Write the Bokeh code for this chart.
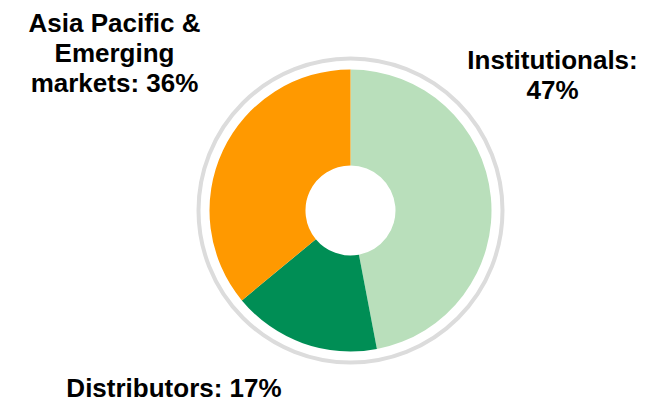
import numpy as np
from bokeh.plotting import figure
from bokeh.models import Range1d, ColumnDataSource
from bokeh.core.properties import value
from bokeh.embed import file_html
from bokeh.resources import INLINE

categories = ["Institutionals", "Distributors", "Asia Pacific &\nEmerging\nmarkets"]
shares = [47, 17, 36]
colors = ["#b9dfbb", "#008e55", "#ff9900"]

W, H = 657, 400
p = figure(width=W, height=H, output_backend="svg", toolbar_location=None,
           x_range=Range1d(0, W), y_range=Range1d(0, H), min_border=0)
p.axis.visible = False
p.grid.visible = False
p.outline_line_color = None

cx, cy = 350, 190
frac = np.array(shares) / sum(shares)
cum = np.concatenate([[0], np.cumsum(frac)])
start = np.pi / 2 - 2 * np.pi * cum[:-1]
end = np.pi / 2 - 2 * np.pi * cum[1:]

# outer grey ring
p.circle(x=[cx], y=[cy], radius=152, fill_color=None, line_color="#dcdcdc", line_width=4)

src = ColumnDataSource(dict(start=start, end=end, color=colors))
p.annular_wedge(x=cx, y=cy, inner_radius=45, outer_radius=141, start_angle="start",
                end_angle="end", direction="clock", fill_color="color", line_color=None,
                source=src)

labels = [f"{categories[0]}:\n{shares[0]}%",
          f"{categories[1]}: {shares[1]}%",
          f"{categories[2]}: {shares[2]}%"]
lx = [552, 173.5, 114]
ly = [325.5, 13, 348]
p.text(x=lx, y=ly, text=labels, text_font=value("Liberation Sans"), text_font_style="bold",
       text_font_size="26px", text_align="center", text_baseline="middle",
       text_line_height=1.0, text_color="#000000")

open("out.html", "w").write(file_html(p, INLINE))
